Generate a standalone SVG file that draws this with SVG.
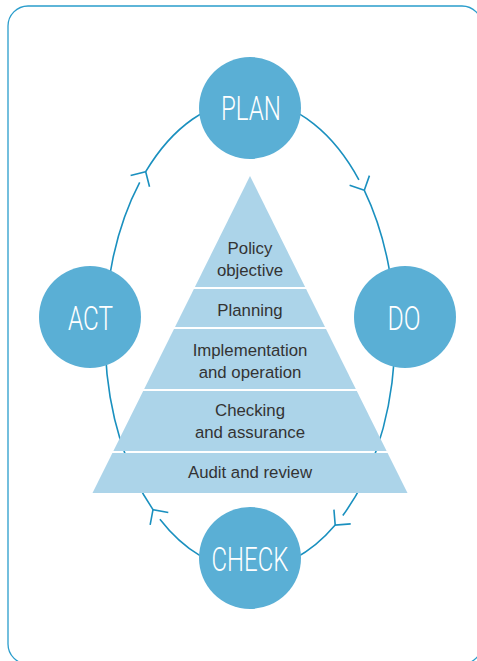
<svg xmlns="http://www.w3.org/2000/svg" width="477" height="661" viewBox="0 0 477 661">
<style>
.frame{fill:none;stroke:#2a9dcc;stroke-width:1.3}
.conn{fill:none;stroke:#1a90bf;stroke-width:1.6}
.node{fill:#5aafd5}
.ntext{font-family:Roboto,"Liberation Sans",sans-serif;font-weight:300;font-size:34px;fill:#ffffff;text-anchor:middle}
.layer{fill:#acd4e9}
.ptext{font-family:"Liberation Sans",Arial,sans-serif;font-size:16.8px;fill:#333333;text-anchor:middle}
</style>
<defs>
<marker id="chev" markerUnits="userSpaceOnUse" markerWidth="30" markerHeight="30" refX="15" refY="15" orient="auto" viewBox="0 0 30 30">
<polyline points="4,4 15,15 4,26" fill="none" stroke="#1a90bf" stroke-width="1.6"/>
</marker>
</defs>
<rect class="frame" x="8" y="6" width="474" height="658" rx="20" ry="20"/>
<g id="connectors">
<path class="conn" marker-start="url(#chev)" d="M145.7,171.7 A145,235 0 0 1 358.9,179.8"/>
<path class="conn" marker-start="url(#chev)" d="M364.3,190.3 A145,235 0 0 1 342.8,515.5"/>
<path class="conn" marker-start="url(#chev)" d="M335.2,525.1 A145,235 0 0 1 159.9,519.2"/>
<path class="conn" marker-start="url(#chev)" d="M153.0,509.6 A145,235 0 0 1 139.7,182.4"/>
</g>
<g id="plan">
<circle class="node" cx="250" cy="108" r="51"/>
<text class="ntext" x="251" y="120" textLength="60" lengthAdjust="spacingAndGlyphs">PLAN</text>
</g>
<g id="do">
<circle class="node" cx="405" cy="317" r="51"/>
<text class="ntext" x="404" y="330" textLength="33" lengthAdjust="spacingAndGlyphs">DO</text>
</g>
<g id="check">
<circle class="node" cx="250" cy="558" r="51"/>
<text class="ntext" x="250" y="571" textLength="77" lengthAdjust="spacingAndGlyphs">CHECK</text>
</g>
<g id="act">
<circle class="node" cx="90" cy="317" r="51"/>
<text class="ntext" x="90.5" y="330" textLength="45" lengthAdjust="spacingAndGlyphs">ACT</text>
</g>
<g id="pyramid">
<g id="layer-policy">
<polygon class="layer" points="250,176 305.1,287 194.9,287"/>
<text class="ptext" x="250" y="254">Policy</text>
<text class="ptext" x="250" y="276">objective</text>
</g>
<g id="layer-planning">
<polygon class="layer" points="193.9,289 306.1,289 325,327 175,327"/>
<text class="ptext" x="250" y="316">Planning</text>
</g>
<g id="layer-implementation">
<polygon class="layer" points="174,329 326,329 355.8,389 144.2,389"/>
<text class="ptext" x="250" y="356">Implementation</text>
<text class="ptext" x="250" y="378">and operation</text>
</g>
<g id="layer-checking">
<polygon class="layer" points="143.2,391 356.8,391 386.6,451 113.4,451"/>
<text class="ptext" x="250" y="416">Checking</text>
<text class="ptext" x="250" y="438">and assurance</text>
</g>
<g id="layer-audit">
<polygon class="layer" points="112.4,453 387.6,453 407.5,493 92.5,493"/>
<text class="ptext" x="250" y="478">Audit and review</text>
</g>
</g>
</svg>
